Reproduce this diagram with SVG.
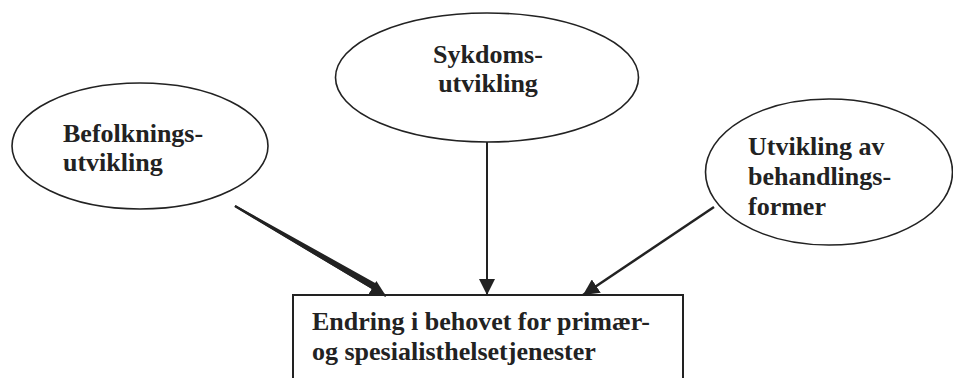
<svg xmlns="http://www.w3.org/2000/svg" width="953" height="378" viewBox="0 0 953 378">
<style>
.node ellipse{fill:#fff;stroke:#222;stroke-width:1.6}
.box{fill:#fff;stroke:#222;stroke-width:2}
text{font-family:"Liberation Serif","Times New Roman",serif;font-weight:bold;font-size:26px;fill:#222}
.c{stroke:#222;fill:none}
</style>
<defs>
<marker id="ah" viewBox="0 0 10 10" refX="10" refY="5" markerWidth="16" markerHeight="16" markerUnits="userSpaceOnUse" orient="auto">
<path d="M0,0 L10,5 L0,10 Z" fill="#222"/>
</marker>
</defs>
<rect width="953" height="378" fill="#fff"/>
<g id="n1" class="node">
<ellipse cx="140" cy="146" rx="128" ry="63"/>
<text x="63" y="142">Befolknings-</text>
<text x="63" y="171">utvikling</text>
</g>
<g id="n2" class="node">
<ellipse cx="487" cy="77.5" rx="151.5" ry="64.5"/>
<text x="488" y="63" text-anchor="middle">Sykdoms-</text>
<text x="488" y="92" text-anchor="middle">utvikling</text>
</g>
<g id="n3" class="node">
<ellipse cx="829" cy="172" rx="123.5" ry="73"/>
<text x="748" y="155">Utvikling av</text>
<text x="748" y="185">behandlings-</text>
<text x="748" y="215">former</text>
</g>
<g id="n4">
<rect class="box" x="293" y="295" width="390" height="100"/>
<text x="312" y="330">Endring i behovet for primær-</text>
<text x="312" y="360">og spesialisthelsetjenester</text>
</g>
<g id="connectors">
<path d="M235,206 L372,288 L375,284 Z" fill="#222" stroke="#222" stroke-width="2"/>
<path class="c" d="M235,206 L386,296" stroke-width="2.5" marker-end="url(#ah)"/>
<path class="c" d="M487,142 L487,295" stroke-width="2" marker-end="url(#ah)"/>
<path class="c" d="M714,207 L583,295" stroke-width="2.5" marker-end="url(#ah)"/>
</g>
</svg>
